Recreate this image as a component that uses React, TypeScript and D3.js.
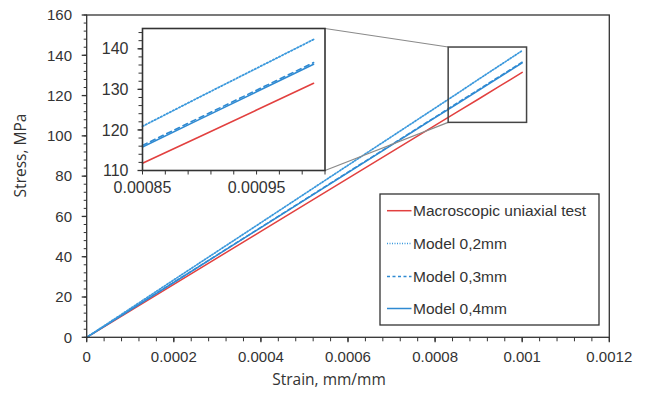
import React from "react";
import * as d3 from "d3";

const strain = [0, 0.0002, 0.0004, 0.0006, 0.0008, 0.00085, 0.0009, 0.00095, 0.001];
const macroTest = [0, 26.3, 52.6, 78.9, 105.2, 111.8, 118.3, 124.9, 131.5];
const model02 = [0, 28.5, 56.9, 85.4, 113.8, 120.9, 128.1, 135.2, 142.3];
const model03 = [0, 27.3, 54.6, 82.0, 109.3, 116.2, 123.0, 129.8, 136.6];
const model04 = [0, 27.2, 54.5, 81.7, 109.0, 115.8, 122.6, 129.4, 136.2];

const seriesNames = ["Macroscopic uniaxial test", "Model 0,2mm", "Model 0,3mm", "Model 0,4mm"];

const xTickValues = [0, 0.0002, 0.0004, 0.0006, 0.0008, 0.001, 0.0012];
const xTickLabels = ["0", "0.0002", "0.0004", "0.0006", "0.0008", "0.001", "0.0012"];
const yTickValues = [0, 20, 40, 60, 80, 100, 120, 140, 160];
const yTickLabels = ["0", "20", "40", "60", "80", "100", "120", "140", "160"];

const insetXTickValues = [0.00085, 0.00095];
const insetXTickLabels = ["0.00085", "0.00095"];
const insetYTickValues = [110, 120, 130, 140];
const insetYTickLabels = ["110", "120", "130", "140"];

const zoomBoxX = [0.00083, 0.00101];
const zoomBoxY = [106.7, 144.1];

const colors = ["#e2403f", "#3a98dc", "#2f8ad2", "#2f8ad2"];
const dashes = ["none", "1.3 1.7", "4 3", "none"];

const W = 648;
const H = 393;
const M = { left: 86.7, right: 609.3, top: 15, bottom: 337.3 };
const I = { left: 142.5, right: 325, top: 28.5, bottom: 170.5 };

const textColor = "#333";
const tickFont = "'Liberation Sans', Arial, sans-serif";
const titleFont = "'Open Sans', sans-serif";

export default function App() {
  const x = d3.scaleLinear().domain([0, 0.0012]).range([M.left, M.right]);
  const y = d3.scaleLinear().domain([0, 160]).range([M.bottom, M.top]);
  const ix = d3.scaleLinear().domain([0.00085, 0.00101]).range([I.left, I.right]);
  const iy = d3.scaleLinear().domain([110, 145]).range([I.bottom, I.top]);

  const allSeries = [macroTest, model02, model03, model04];
  const mainLine = (vals: number[]) =>
    d3.line<number>().x((_, i) => x(strain[i])).y((v) => y(v))(vals) || "";
  const insetLine = (vals: number[]) => {
    const pts = strain.map((s, i) => [s, vals[i]] as [number, number]).filter((p) => p[0] >= 0.00085);
    return d3.line<[number, number]>().x((p) => ix(p[0])).y((p) => iy(p[1]))(pts) || "";
  };

  const xMinor = d3.range(0, 31).map((i) => i * 0.00004);
  const yMinor = d3.range(0, 41).map((i) => i * 4);
  const ixMinor = d3.range(0, 9).map((i) => 0.00085 + i * 0.00002);
  const iyMinor = d3.range(0, 18).map((i) => 110 + i * 2);

  const bx0 = x(zoomBoxX[0]);
  const bx1 = x(zoomBoxX[1]);
  const by0 = y(zoomBoxY[1]);
  const by1 = y(zoomBoxY[0]);

  const legX = 380;
  const legY = 194;
  const legW = 219;
  const legH = 131;
  const legRows = [210.7, 243.5, 276.5, 308.5];

  return (
    <svg width={W} height={H} style={{ position: "absolute", left: 0, top: 0, background: "#fff" }}>
      <rect x={0} y={0} width={W} height={H} fill="#fff" />
      {/* main lines */}
      <g fill="none" strokeLinecap="round">
        {[0, 3, 2, 1].map((k) => (
          <path key={k} d={mainLine(allSeries[k])} stroke={colors[k]} strokeWidth={k === 1 ? 1.7 : 1.5} strokeDasharray={dashes[k]} />
        ))}
      </g>
      {/* frame */}
      <rect x={M.left} y={M.top} width={M.right - M.left} height={M.bottom - M.top} fill="none" stroke="#333" strokeWidth={1.3} />
      {/* main ticks */}
      <g stroke="#333" strokeWidth={1}>
        {xMinor.map((v, i) => (
          <line key={"xm" + i} x1={x(v)} x2={x(v)} y1={M.bottom} y2={M.bottom + 4} />
        ))}
        {xTickValues.map((v, i) => (
          <line key={"xM" + i} x1={x(v)} x2={x(v)} y1={M.bottom} y2={M.bottom + 5} strokeWidth={1.3} />
        ))}
        {yMinor.map((v, i) => (
          <line key={"ym" + i} x1={M.left - 3} x2={M.left} y1={y(v)} y2={y(v)} />
        ))}
        {yTickValues.map((v, i) => (
          <line key={"yM" + i} x1={M.left - 5} x2={M.left} y1={y(v)} y2={y(v)} strokeWidth={1.3} />
        ))}
      </g>
      <g fill={textColor} fontFamily={tickFont} fontSize={15}>
        {xTickValues.map((v, i) => (
          <text key={"xl" + i} x={x(v)} y={361.5} textAnchor="middle">{xTickLabels[i]}</text>
        ))}
        {yTickValues.map((v, i) => (
          <text key={"yl" + i} x={72} y={y(v) + 5.3} textAnchor="end">{yTickLabels[i]}</text>
        ))}
      </g>
      {/* axis titles */}
      <text x={329} y={384.5} textAnchor="middle" fill={textColor} fontFamily={titleFont} fontSize={15.5}>Strain, mm/mm</text>
      <text transform="translate(26,155.5) rotate(-90)" textAnchor="middle" fill={textColor} fontFamily={titleFont} fontSize={15.5}>Stress, MPa</text>

      {/* zoom box and connectors */}
      <line x1={I.right} y1={I.top} x2={bx0} y2={by0} stroke="#8a8a8a" strokeWidth={1.2} />
      <line x1={I.right} y1={I.bottom} x2={bx0} y2={by1} stroke="#8a8a8a" strokeWidth={1.2} />
      <rect x={bx0} y={by0} width={bx1 - bx0} height={by1 - by0} fill="none" stroke="#444" strokeWidth={1.5} />

      {/* inset */}
      <rect x={I.left} y={I.top} width={I.right - I.left} height={I.bottom - I.top} fill="#fff" />
      <g fill="none" strokeLinecap="round">
        {[0, 3, 2, 1].map((k) => (
          <path key={"i" + k} d={insetLine(allSeries[k])} stroke={colors[k]} strokeWidth={k === 1 ? 1.8 : 1.6} strokeDasharray={k === 1 ? "1.4 2" : k === 2 ? "5 4" : "none"} />
        ))}
      </g>
      <rect x={I.left} y={I.top} width={I.right - I.left} height={I.bottom - I.top} fill="none" stroke="#333" strokeWidth={1.6} />
      <g stroke="#333" strokeWidth={1}>
        {ixMinor.map((v, i) => (
          <line key={"ixm" + i} x1={ix(v)} x2={ix(v)} y1={I.bottom} y2={I.bottom + 4} />
        ))}
        {iyMinor.map((v, i) => (
          <line key={"iym" + i} x1={I.left - 4} x2={I.left} y1={iy(v)} y2={iy(v)} />
        ))}
        {insetYTickValues.map((v, i) => (
          <line key={"iyM" + i} x1={I.left - 5} x2={I.left} y1={iy(v)} y2={iy(v)} strokeWidth={1.3} />
        ))}
      </g>
      <g fill={textColor} fontFamily={tickFont} fontSize={16}>
        {insetXTickValues.map((v, i) => (
          <text key={"ixl" + i} x={ix(v)} y={193} textAnchor="middle">{insetXTickLabels[i]}</text>
        ))}
        {insetYTickValues.map((v, i) => (
          <text key={"iyl" + i} x={128.5} y={iy(v) + 5.7} textAnchor="end">{insetYTickLabels[i]}</text>
        ))}
      </g>

      {/* legend */}
      <rect x={legX} y={legY} width={legW} height={legH} fill="#fff" stroke="#333" strokeWidth={1.3} />
      {seriesNames.map((name, k) => (
        <g key={"lg" + k}>
          <line x1={387} x2={411.5} y1={legRows[k]} y2={legRows[k]} stroke={colors[k]} strokeWidth={1.5} strokeDasharray={k === 1 ? "1 1.5" : k === 2 ? "3 2.5" : "none"} />
          <text x={413} y={legRows[k] + 5.5} fill={textColor} fontFamily={tickFont} fontSize={15.5}>{name}</text>
        </g>
      ))}
    </svg>
  );
}
